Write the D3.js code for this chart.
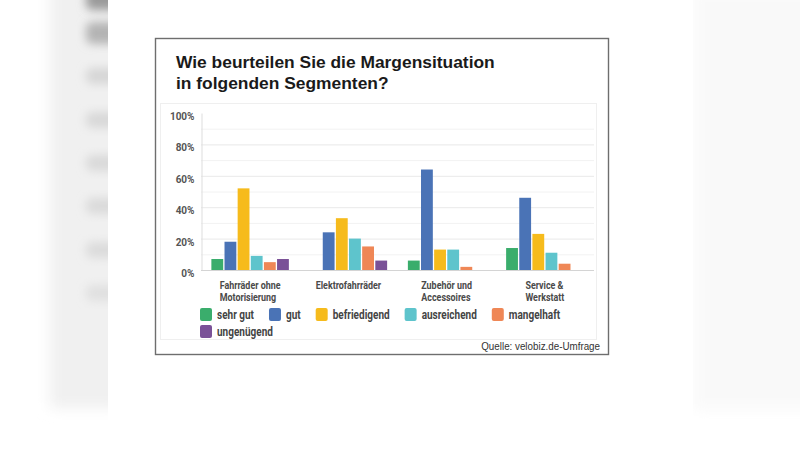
<!DOCTYPE html>
<html><head><meta charset="utf-8">
<script src="https://cdn.jsdelivr.net/npm/d3@7"></script>
<style>html,body{margin:0;padding:0;background:#fff;} svg{display:block}</style>
</head><body><svg id="c" width="800" height="450"></svg>
<script>
// ---- data ----
const categories = ["Fahrräder ohne\nMotorisierung", "Elektrofahrräder", "Zubehör und\nAccessoires", "Service &\nWerkstatt"];
const ratings = ["sehr gut", "gut", "befriedigend", "ausreichend", "mangelhaft", "ungenügend"];
const sehrGut      = [7, 0, 6, 14];
const gut          = [18, 24, 64, 46];
const befriedigend = [52, 33, 13, 23];
const ausreichend  = [9, 20, 13, 11];
const mangelhaft   = [5, 15, 2, 4];
const ungenuegend  = [7, 6, 0, 0];
const yTicks = [0, 20, 40, 60, 80, 100];
const colors = ["#3aad6c", "#4a73b6", "#f6bb1c", "#5ec4cc", "#ef8756", "#7a5197"];
const titleLines = ["Wie beurteilen Sie die Margensituation", "in folgenden Segmenten?"];
const source = "Quelle: velobiz.de-Umfrage";

const series = [sehrGut, gut, befriedigend, ausreichend, mangelhaft, ungenuegend];

const svg = d3.select("#c");

function condense(sel, f) {
  sel.each(function () {
    const w = this.getComputedTextLength();
    this.setAttribute("textLength", w * f);
    this.setAttribute("lengthAdjust", "spacingAndGlyphs");
  });
}

// ---- background decoration ----
const defs = svg.append("defs");
defs.append("filter").attr("id", "blur").attr("x", "-50%").attr("y", "-50%").attr("width", "200%").attr("height", "200%")
  .append("feGaussianBlur").attr("stdDeviation", 7);
defs.append("filter").attr("id", "blur2").attr("x", "-50%").attr("y", "-50%").attr("width", "200%").attr("height", "200%")
  .append("feGaussianBlur").attr("stdDeviation", 5);
svg.append("rect").attr("width", 800).attr("height", 450).attr("fill", "#ffffff");
const deco = svg.append("g");
deco.append("rect").attr("x", 50).attr("y", -20).attr("width", 70).attr("height", 428).attr("fill", "#f0f0f0").attr("filter", "url(#blur)");
const blobs = [[-12, 22, "#9a9a9a"], [22, 22, "#b4b4b4"], [68, 16, "#d6d6d6"], [112, 16, "#d8d8d8"], [155, 16, "#d9d9d9"], [198, 16, "#dadada"], [242, 16, "#dbdbdb"], [285, 16, "#e0e0e0"]];
blobs.forEach(b => deco.append("rect").attr("x", 86).attr("y", b[0]).attr("width", 34).attr("height", b[1]).attr("rx", 6).attr("fill", b[2]).attr("filter", "url(#blur2)"));
deco.append("rect").attr("x", 693).attr("y", -10).attr("width", 130).attr("height", 420).attr("fill", "#f9f9f9").attr("filter", "url(#blur)");
svg.append("rect").attr("x", 108).attr("y", 0).attr("width", 585).attr("height", 450).attr("fill", "#ffffff");

// ---- frame ----
svg.append("rect").attr("x", 155.5).attr("y", 38.5).attr("width", 453).attr("height", 316)
  .attr("fill", "#fff").attr("stroke", "#6e6e6e").attr("stroke-width", 1.4);
svg.append("rect").attr("x", 160.5).attr("y", 103.5).attr("width", 436).attr("height", 236)
  .attr("fill", "none").attr("stroke", "#efefef").attr("stroke-width", 1);

// ---- title ----
svg.selectAll("text.title").data(titleLines).join("text").attr("class", "title")
  .attr("x", 176).attr("y", (d, i) => 68 + i * 21)
  .attr("font-family", "Liberation Sans, Arial, sans-serif").attr("font-weight", 700)
  .attr("font-size", 17.4).attr("fill", "#1a1a1a").text(d => d);

// ---- scales ----
const y = d3.scaleLinear().domain([0, 100]).range([270, 113]);
const x0 = d3.scaleBand().domain(categories).range([201, 594]).padding(0);
const groupW = 77.5;
const x1 = d3.scaleBand().domain(ratings).range([0, groupW]).paddingInner(0.1);
const color = d3.scaleOrdinal().domain(ratings).range(colors);

// grid
const grid = svg.append("g");
grid.selectAll("line").data(d3.range(10, 100, 10)).join("line")
  .attr("x1", 201).attr("x2", 594).attr("y1", d => y(d) + 0.5).attr("y2", d => y(d) + 0.5)
  .attr("stroke", d => d % 20 === 0 ? "#e9e9e9" : "#f2f2f2").attr("stroke-width", 1);

// y axis
const yAxis = svg.append("g").attr("transform", "translate(201.5,0)")
  .call(d3.axisLeft(y).tickValues(yTicks).tickFormat(d => d + "%").tickSize(0).tickSizeOuter(0).tickPadding(7));
yAxis.select(".domain").attr("stroke", "#dddddd");
yAxis.selectAll("text").attr("font-family", "Roboto, sans-serif").attr("font-weight", 700)
  .attr("font-size", 10).attr("fill", "#555").attr("dy", "0.65em");

// baseline
svg.append("line").attr("x1", 201).attr("x2", 594).attr("y1", y(0) + 0.5).attr("y2", y(0) + 0.5)
  .attr("stroke", "#d4d4d4").attr("stroke-width", 1.2);

// bars
const bars = svg.append("g");
categories.forEach((cat, ci) => {
  const off = x0(cat) + (x0.bandwidth() - groupW) / 2;
  bars.append("g").attr("transform", `translate(${off},0)`)
    .selectAll("rect").data(ratings.map((r, ri) => ({ r, v: series[ri][ci] })).filter(d => d.v > 0))
    .join("rect")
    .attr("x", d => x1(d.r)).attr("width", x1.bandwidth())
    .attr("y", d => y(d.v)).attr("height", d => y(0) - y(d.v))
    .attr("fill", d => color(d.r));
});

// category labels
const catG = svg.append("g");
categories.forEach(cat => {
  const lines = cat.split("\n");
  const g = catG.append("g");
  const ts = g.selectAll("text").data(lines).join("text")
    .attr("y", (d, i) => 289 + i * 11.5)
    .attr("font-family", "Roboto, sans-serif").attr("font-weight", 700)
    .attr("font-size", 11).attr("fill", "#4a4a4a").text(d => d);
  condense(ts, 0.81);
  let maxW = 0;
  ts.each(function () { maxW = Math.max(maxW, +this.getAttribute("textLength")); });
  const cx = x0(cat) + x0.bandwidth() / 2;
  ts.attr("x", cx - maxW / 2);
});

// legend (flow layout)
const leg = svg.append("g");
let lx = 200, ly = 308;
ratings.forEach((r, i) => {
  const t = leg.append("text").attr("font-family", "Roboto, sans-serif").attr("font-weight", 700)
    .attr("font-size", 12.5).attr("fill", "#444").text(r);
  condense(t, 0.8);
  const tw = +t.attr("textLength");
  if (lx + 17 + tw > 600) { lx = 200; ly += 17; }
  leg.append("rect").attr("x", lx).attr("y", ly).attr("width", 12).attr("height", 13).attr("rx", 2)
    .attr("fill", color(r));
  t.attr("x", lx + 17).attr("y", ly + 10.5);
  lx += 17 + tw + 15;
});

// source
const src = svg.append("text").attr("x", 600).attr("y", 350).attr("text-anchor", "end")
  .attr("font-family", "Liberation Sans, Arial, sans-serif").attr("font-size", 10)
  .attr("fill", "#333").text(source);
condense(src, 0.98);
</script></body></html>
